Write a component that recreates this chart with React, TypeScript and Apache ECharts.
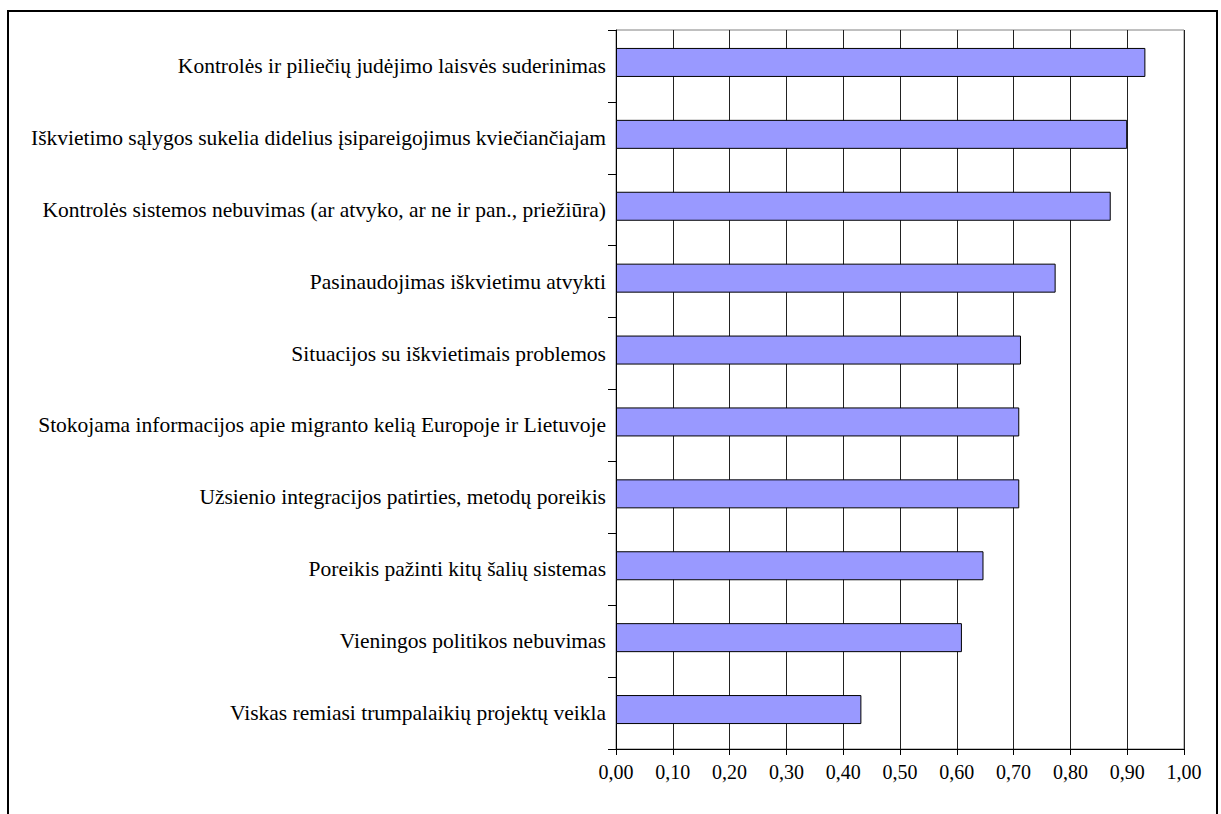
import React, { useEffect, useRef } from "react";
import * as echarts from "echarts";

const categories: string[] = [
  "Kontrolės ir piliečių judėjimo laisvės suderinimas",
  "Iškvietimo sąlygos sukelia didelius įsipareigojimus kviečiančiajam",
  "Kontrolės sistemos nebuvimas (ar atvyko, ar ne ir pan., priežiūra)",
  "Pasinaudojimas iškvietimu atvykti",
  "Situacijos su iškvietimais problemos",
  "Stokojama informacijos apie migranto kelią Europoje ir Lietuvoje",
  "Užsienio integracijos patirties, metodų poreikis",
  "Poreikis pažinti kitų šalių sistemas",
  "Vieningos politikos nebuvimas",
  "Viskas remiasi trumpalaikių projektų veikla",
];

const values: number[] = [0.932, 0.9, 0.871, 0.774, 0.713, 0.71, 0.71, 0.647, 0.609, 0.432];

const axisMin = 0;
const axisMax = 1;
const axisStep = 0.1;

const FONT = "Liberation Serif";

export default function App() {
  const ref = useRef<HTMLDivElement>(null);
  useEffect(() => {
    if (!ref.current) return;
    const chart = echarts.init(ref.current, undefined, { renderer: "svg" });
    chart.setOption({
      animation: false,
      backgroundColor: "#ffffff",
      textStyle: { fontFamily: FONT, fontSize: 20, color: "#000" },
      grid: {
        left: 616,
        right: 37,
        top: 30,
        bottom: 65,
        show: true,
        borderColor: "#808080",
        borderWidth: 1,
        backgroundColor: "transparent",
      },
      xAxis: {
        type: "value",
        min: axisMin,
        max: axisMax,
        interval: axisStep,
        axisLine: { show: true, lineStyle: { color: "#000", width: 1 } },
        axisTick: { show: true, length: 6, lineStyle: { color: "#000" } },
        splitLine: { show: true, lineStyle: { color: "#222", width: 1 } },
        axisLabel: {
          show: true,
          color: "#000",
          fontFamily: FONT,
          fontSize: 20,
          margin: 13,
          formatter: (v: number) => v.toFixed(2).replace(".", ","),
        },
      },
      yAxis: {
        type: "category",
        inverse: true,
        data: categories,
        axisLine: { show: true, lineStyle: { color: "#000", width: 1 } },
        axisTick: { show: true, length: 8, lineStyle: { color: "#000" } },
        splitLine: { show: false },
        axisLabel: {
          show: true,
          color: "#000",
          fontFamily: FONT,
          fontSize: 21.5,
          margin: 10,
        },
      },
      series: [
        {
          type: "bar",
          data: values,
          barWidth: 29,
          barGap: 0,
          itemStyle: { color: "#9999FF", borderColor: "#000", borderWidth: 1 },
        },
        {
          type: "bar",
          data: values.map(() => "-"),
          barWidth: 7,
          itemStyle: { color: "transparent" },
          silent: true,
        },
      ],
      graphic: [
        {
          type: "rect",
          shape: { x: 8, y: 11, width: 1209, height: 900 },
          style: { fill: "none", stroke: "#000", lineWidth: 2 },
          silent: true,
        },
      ],
    });
    return () => chart.dispose();
  }, []);
  return (
    <div
      ref={ref}
      style={{ position: "fixed", left: 0, top: 0, width: 1221, height: 814 }}
    />
  );
}
